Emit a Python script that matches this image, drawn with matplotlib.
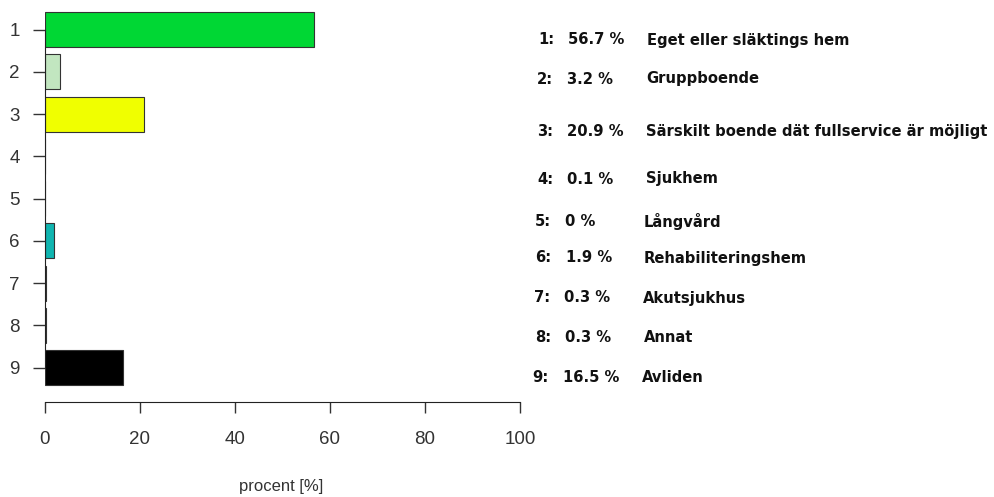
import matplotlib
matplotlib.use("Agg")
import matplotlib.pyplot as plt

categories = ["1", "2", "3", "4", "5", "6", "7", "8", "9"]
values = [56.7, 3.2, 20.9, 0.1, 0.0, 1.9, 0.3, 0.3, 16.5]
pct_labels = ["56.7 %", "3.2 %", "20.9 %", "0.1 %", "0 %", "1.9 %", "0.3 %", "0.3 %", "16.5 %"]
names = ["Eget eller släktings hem", "Gruppboende",
         "Särskilt boende dät fullservice är möjligt", "Sjukhem", "Långvård",
         "Rehabiliteringshem", "Akutsjukhus", "Annat", "Avliden"]
xticks = [0, 20, 40, 60, 80, 100]
xlabel = "procent [%]"

colors = ["#00d734", "#c2e6c0", "#f0ff00", "#111111", "#ffffff",
          "#10b5b0", "#cc0000", "#9494c4", "#000000"]

# layout (pixel rows / columns of the legend text)
text_rows_px = [40, 79, 131, 179, 222, 258, 298, 338, 378]
col_num_px = [538, 537, 537, 537, 535, 535, 534, 535, 532]
col_pct_px = [568, 567, 567, 567, 565, 566, 564, 565, 563]
col_name_px = [647, 646, 646, 646, 644, 644, 643, 644, 642]

W, H = 995, 497
fig = plt.figure(figsize=(W / 100, H / 100), dpi=100)
ax = fig.add_axes([45 / W, 1 - 402 / H, (520 - 45) / W, (402 - 5) / H])

ypos = list(range(1, len(categories) + 1))
ax.barh(ypos, values, height=0.83, color=colors, edgecolor="#333333",
        linewidth=0.8, left=0)

ax.set_xlim(0, 100)
ax.set_ylim(9.81, 0.42)
ax.set_yticks(ypos)
ax.set_yticklabels(categories)
ax.set_xticks(xticks)
ax.set_xticklabels([str(t) for t in xticks])

for s in ["top", "right"]:
    ax.spines[s].set_visible(False)
ax.spines["left"].set_bounds(1, 9)
ax.spines["left"].set_color("#222222")
ax.spines["bottom"].set_color("#222222")

for lab in ax.get_yticklabels() + ax.get_xticklabels():
    lab.set_fontfamily("Liberation Sans")
    lab.set_fontsize(13.5)
    lab.set_color("#333333")
ax.tick_params(axis="y", length=9, width=1, pad=9, color="#333333")
ax.tick_params(axis="x", length=8, width=1, pad=13, color="#333333")

fig.text(281 / W, 1 - 487 / H, xlabel, ha="center", va="center",
         family="Liberation Sans", fontsize=12, color="#333333")

for i in range(len(categories)):
    y = 1 - text_rows_px[i] / H
    kw = dict(va="center", ha="left", family="DejaVu Sans", fontweight="bold",
              fontsize=10.6, color="#111111")
    fig.text(col_num_px[i] / W, y, categories[i] + ":", **kw)
    fig.text(col_pct_px[i] / W, y, pct_labels[i], **kw)
    fig.text(col_name_px[i] / W, y, names[i], **kw)

fig.savefig("out.png", dpi=100)
